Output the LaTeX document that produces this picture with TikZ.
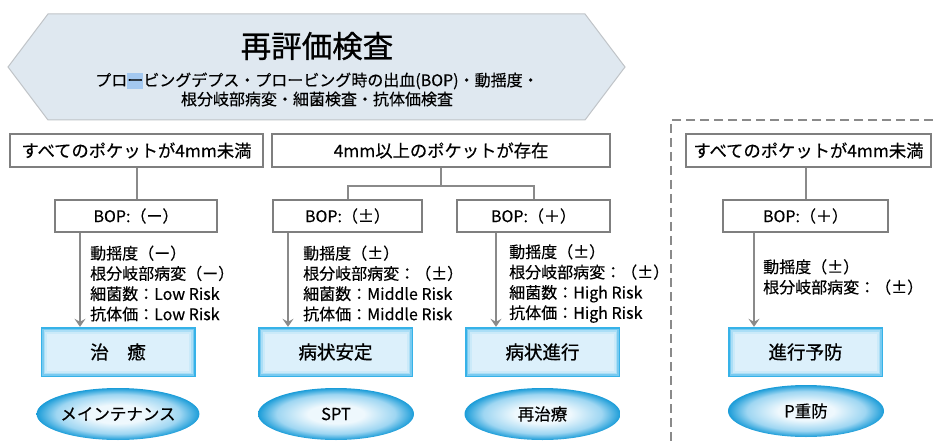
\documentclass[tikz,border=0pt]{standalone}
\usepackage{fontspec}
\setmainfont[FakeBold=0.35]{Noto Sans CJK JP}
\newfontfamily\jpbold[FakeBold=0.9]{Noto Sans CJK JP}
\newfontfamily\jptitle[FakeBold=0.8]{Noto Sans CJK JP}
\usetikzlibrary{shapes.geometric,arrows.meta,calc}
\definecolor{hexfill}{HTML}{DFE8F0}
\definecolor{hexline}{HTML}{C0C4C8}
\definecolor{boxline}{HTML}{7F7F7F}
\definecolor{connline}{HTML}{8A8A8A}
\definecolor{hl}{HTML}{A3C8F0}
\definecolor{rba}{HTML}{36B2E8}
\definecolor{rbb}{HTML}{78CAF0}
\definecolor{rbc}{HTML}{ABDEF6}
\definecolor{rbd}{HTML}{CBEAF9}
\definecolor{rbe}{HTML}{DCF0FB}
\definecolor{ellin}{HTML}{EEF8FD}
\definecolor{ellmid}{HTML}{9ED6F2}
\definecolor{ellout}{HTML}{1A9CD8}
\pgfdeclareradialshading{ellsh}{\pgfpoint{0bp}{0bp}}{color(0bp)=(ellin); color(9bp)=(ellin); color(19bp)=(ellmid); color(25bp)=(ellout); color(50bp)=(ellout)}
\newcommand{\fsz}[2]{\fontsize{#1}{#2}\selectfont}
\begin{document}
\begin{tikzpicture}[x=1pt,y=-1pt,
  condbox/.style={draw=boxline, line width=2pt, fill=white, minimum height=33pt, inner sep=0pt, font=\fsz{17.3}{20}},
  bopbox/.style={draw=boxline, line width=2pt, fill=white, minimum height=32pt, inner sep=0pt, font=\fsz{16}{20}},
  conn/.style={draw=connline, line width=2pt},
  arr/.style={draw=connline, line width=2pt, -{Stealth[length=8pt,width=11pt,inset=3pt]}},
  notes/.style={anchor=west, align=left, inner sep=0pt, font=\fsz{16}{20.3}},
  resbox/.style={fill=rba, minimum width=155pt, minimum height=50pt, inner sep=0pt, font=\jpbold\fsz{18.5}{20},
    path picture={
      \foreach \i/\c in {1.5/rbb,3/rbc,4.5/rbd,6.5/rbe}
        \fill[\c] ([shift={(\i pt,-\i pt)}]path picture bounding box.north west) rectangle ([shift={(-\i pt,\i pt)}]path picture bounding box.south east);
    }},
  resell/.style={ellipse, shade, shading=ellsh, minimum width=156pt, minimum height=52pt, inner sep=0pt, font=\fsz{16.5}{20}},
  dashline/.style={draw=connline, line width=2pt, dash pattern=on 9pt off 5pt}
]
\useasboundingbox (0,0) rectangle (933,446);
\fill[white] (0,0) rectangle (933,446);

% header hexagon
\filldraw[fill=hexfill, draw=hexline, line width=1pt] (8,67) -- (48,14) -- (585,14) -- (625,67) -- (585,120) -- (48,120) -- cycle;
\node[font=\jptitle\fsz{30.5}{32}] (title) at (317,46) {再評価検査};
\node[align=center, font=\fsz{16}{19}] (sub) at (317,89.5) {プロ{\setlength\fboxsep{0pt}\colorbox{hl}{\rule[-2.5pt]{0pt}{16pt}ー}}ビングデプス・プロービング時の出血(BOP)・動揺度・\\根分岐部病変・細菌検査・抗体価検査};

% dashed frame
\draw[dashline] (933,120) -- (671,120) -- (671,446);

% condition boxes
\node[condbox, minimum width=253pt] (A) at (136.5,150.5) {すべてのポケットが4mm未満};
\node[condbox, minimum width=338pt] (B) at (441,150.5) {4mm以上のポケットが存在};
\node[condbox, minimum width=245pt] (C) at (808.5,150.5) {すべてのポケットが4mm未満};

% BOP boxes
\node[bopbox, minimum width=162pt] (BOPm) at (136,216) {BOP:（ー）};
\node[bopbox, minimum width=149pt] (BOPpm) at (347.5,216) {BOP:（±）};
\node[bopbox, minimum width=153pt] (BOPp) at (533.5,216) {BOP:（＋）};
\node[bopbox, minimum width=165pt] (BOPr) at (805.5,216) {BOP:（＋）};

% connectors
\coordinate (jB) at ($(B.south)+(0,18)$);
\draw[conn] (A.south) -- (A.south |- BOPm.north);
\draw[conn] (B.south) -- (jB);
\draw[conn] (BOPpm.north) |- (jB) -| (BOPp.north);
\draw[conn] (C.south -| BOPr.north) -- (BOPr.north);

% result boxes
\node[resbox] (R1) at (118,352) {治　癒};
\node[resbox] (R2) at (335.5,352) {病状安定};
\node[resbox] (R3) at (542.5,352) {病状進行};
\node[resbox] (R4) at (805.5,352) {進行予防};

% ellipses
\node[resell] (E1) at (118,414) {メインテナンス};
\node[resell] (E2) at (336,414) {SPT};
\node[resell] (E3) at (542.5,414) {再治療};
\node[resell] (E4) at (806,411) {P重防};

% arrows
\coordinate (s1) at ($(BOPm.south west)+(26,0)$);
\coordinate (s2) at ($(BOPpm.south west)+(16,0)$);
\coordinate (s3) at ($(BOPp.south west)+(40,0)$);
\coordinate (s4) at ($(BOPr.south west)+(32,0)$);
\draw[arr] (s1) -- (s1 |- R1.north);
\draw[arr] (s2) -- (s2 |- R2.north);
\draw[arr] (s3) -- (s3 |- R3.north);
\draw[arr] (s4) -- (s4 |- R4.north);

% notes
\node[notes] (N1) at (90,283.5) {動揺度（ー）\\根分岐部病変（ー）\\細菌数：Low Risk\\抗体価：Low Risk};
\node[notes] (N2) at (303,283.5) {動揺度（±）\\根分岐部病変：（±）\\細菌数：Middle Risk\\抗体価：Middle Risk};
\node[notes] (N3) at (509,283.5) {動揺度（±）\\根分岐部病変：（±）\\細菌数：High Risk\\抗体価：High Risk};
\node[notes] (N4) at (763,277) {動揺度（±）\\根分岐部病変：（±）};
\end{tikzpicture}
\end{document}
